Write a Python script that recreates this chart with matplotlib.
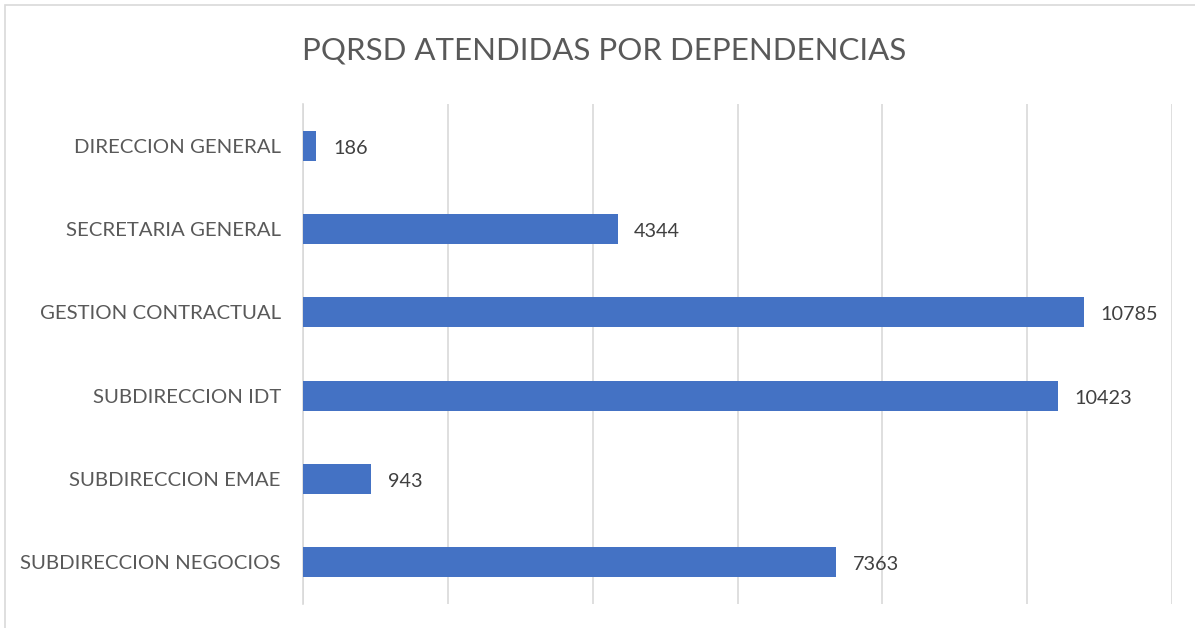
import matplotlib.pyplot as plt
from matplotlib.patches import Rectangle

# Datos de la grafica
dependencias = ["DIRECCION GENERAL", "SECRETARIA GENERAL", "GESTION CONTRACTUAL",
                "SUBDIRECCION IDT", "SUBDIRECCION EMAE", "SUBDIRECCION NEGOCIOS"]
pqrsd = [186, 4344, 10785, 10423, 943, 7363]

plt.rcParams['font.family'] = ['Lato', 'DejaVu Sans']
gris = '#595959'

fig = plt.figure(figsize=(11.95, 6.28), dpi=100)
ax = fig.add_axes([303/1195, 1 - 604/628, (1172-303)/1195, 500/628])

pos = list(range(len(dependencias)))
ax.barh(pos, pqrsd, height=0.36, color='#4472C4', zorder=3)
for p, v in zip(pos, pqrsd):
    ax.text(v + 230, p + 0.03, str(v), va='center', ha='left', fontsize=14.3, color='#404040')

ax.set_xlim(0, 12000)
ax.set_ylim(len(dependencias) - 0.5, -0.5)
ax.set_yticks(pos)
ax.set_yticklabels(dependencias, fontsize=14.7, color=gris)
ax.set_xticks(range(0, 12001, 2000))
ax.tick_params(axis='x', labelbottom=False, length=0)
ax.tick_params(axis='y', length=0, pad=16)
ax.grid(axis='x', color='#d9d9d9', linewidth=1.2, zorder=0)
for s in ['top', 'right', 'bottom']:
    ax.spines[s].set_visible(False)
ax.spines['left'].set_color('#d9d9d9')
ax.spines['left'].set_linewidth(1.2)

fig.text(604/1195, 1 - 51/628, "PQRSD ATENDIDAS POR DEPENDENCIAS", ha='center', va='center',
         fontsize=22.5, color=gris)

# Borde del area de la grafica
fig.patches.append(Rectangle((5/1195, -0.1), 1.2, 1 - 5/628 + 0.1, transform=fig.transFigure,
                             fill=False, edgecolor='#d9d9d9', linewidth=1.2))

fig.savefig('out.png', dpi=100)
